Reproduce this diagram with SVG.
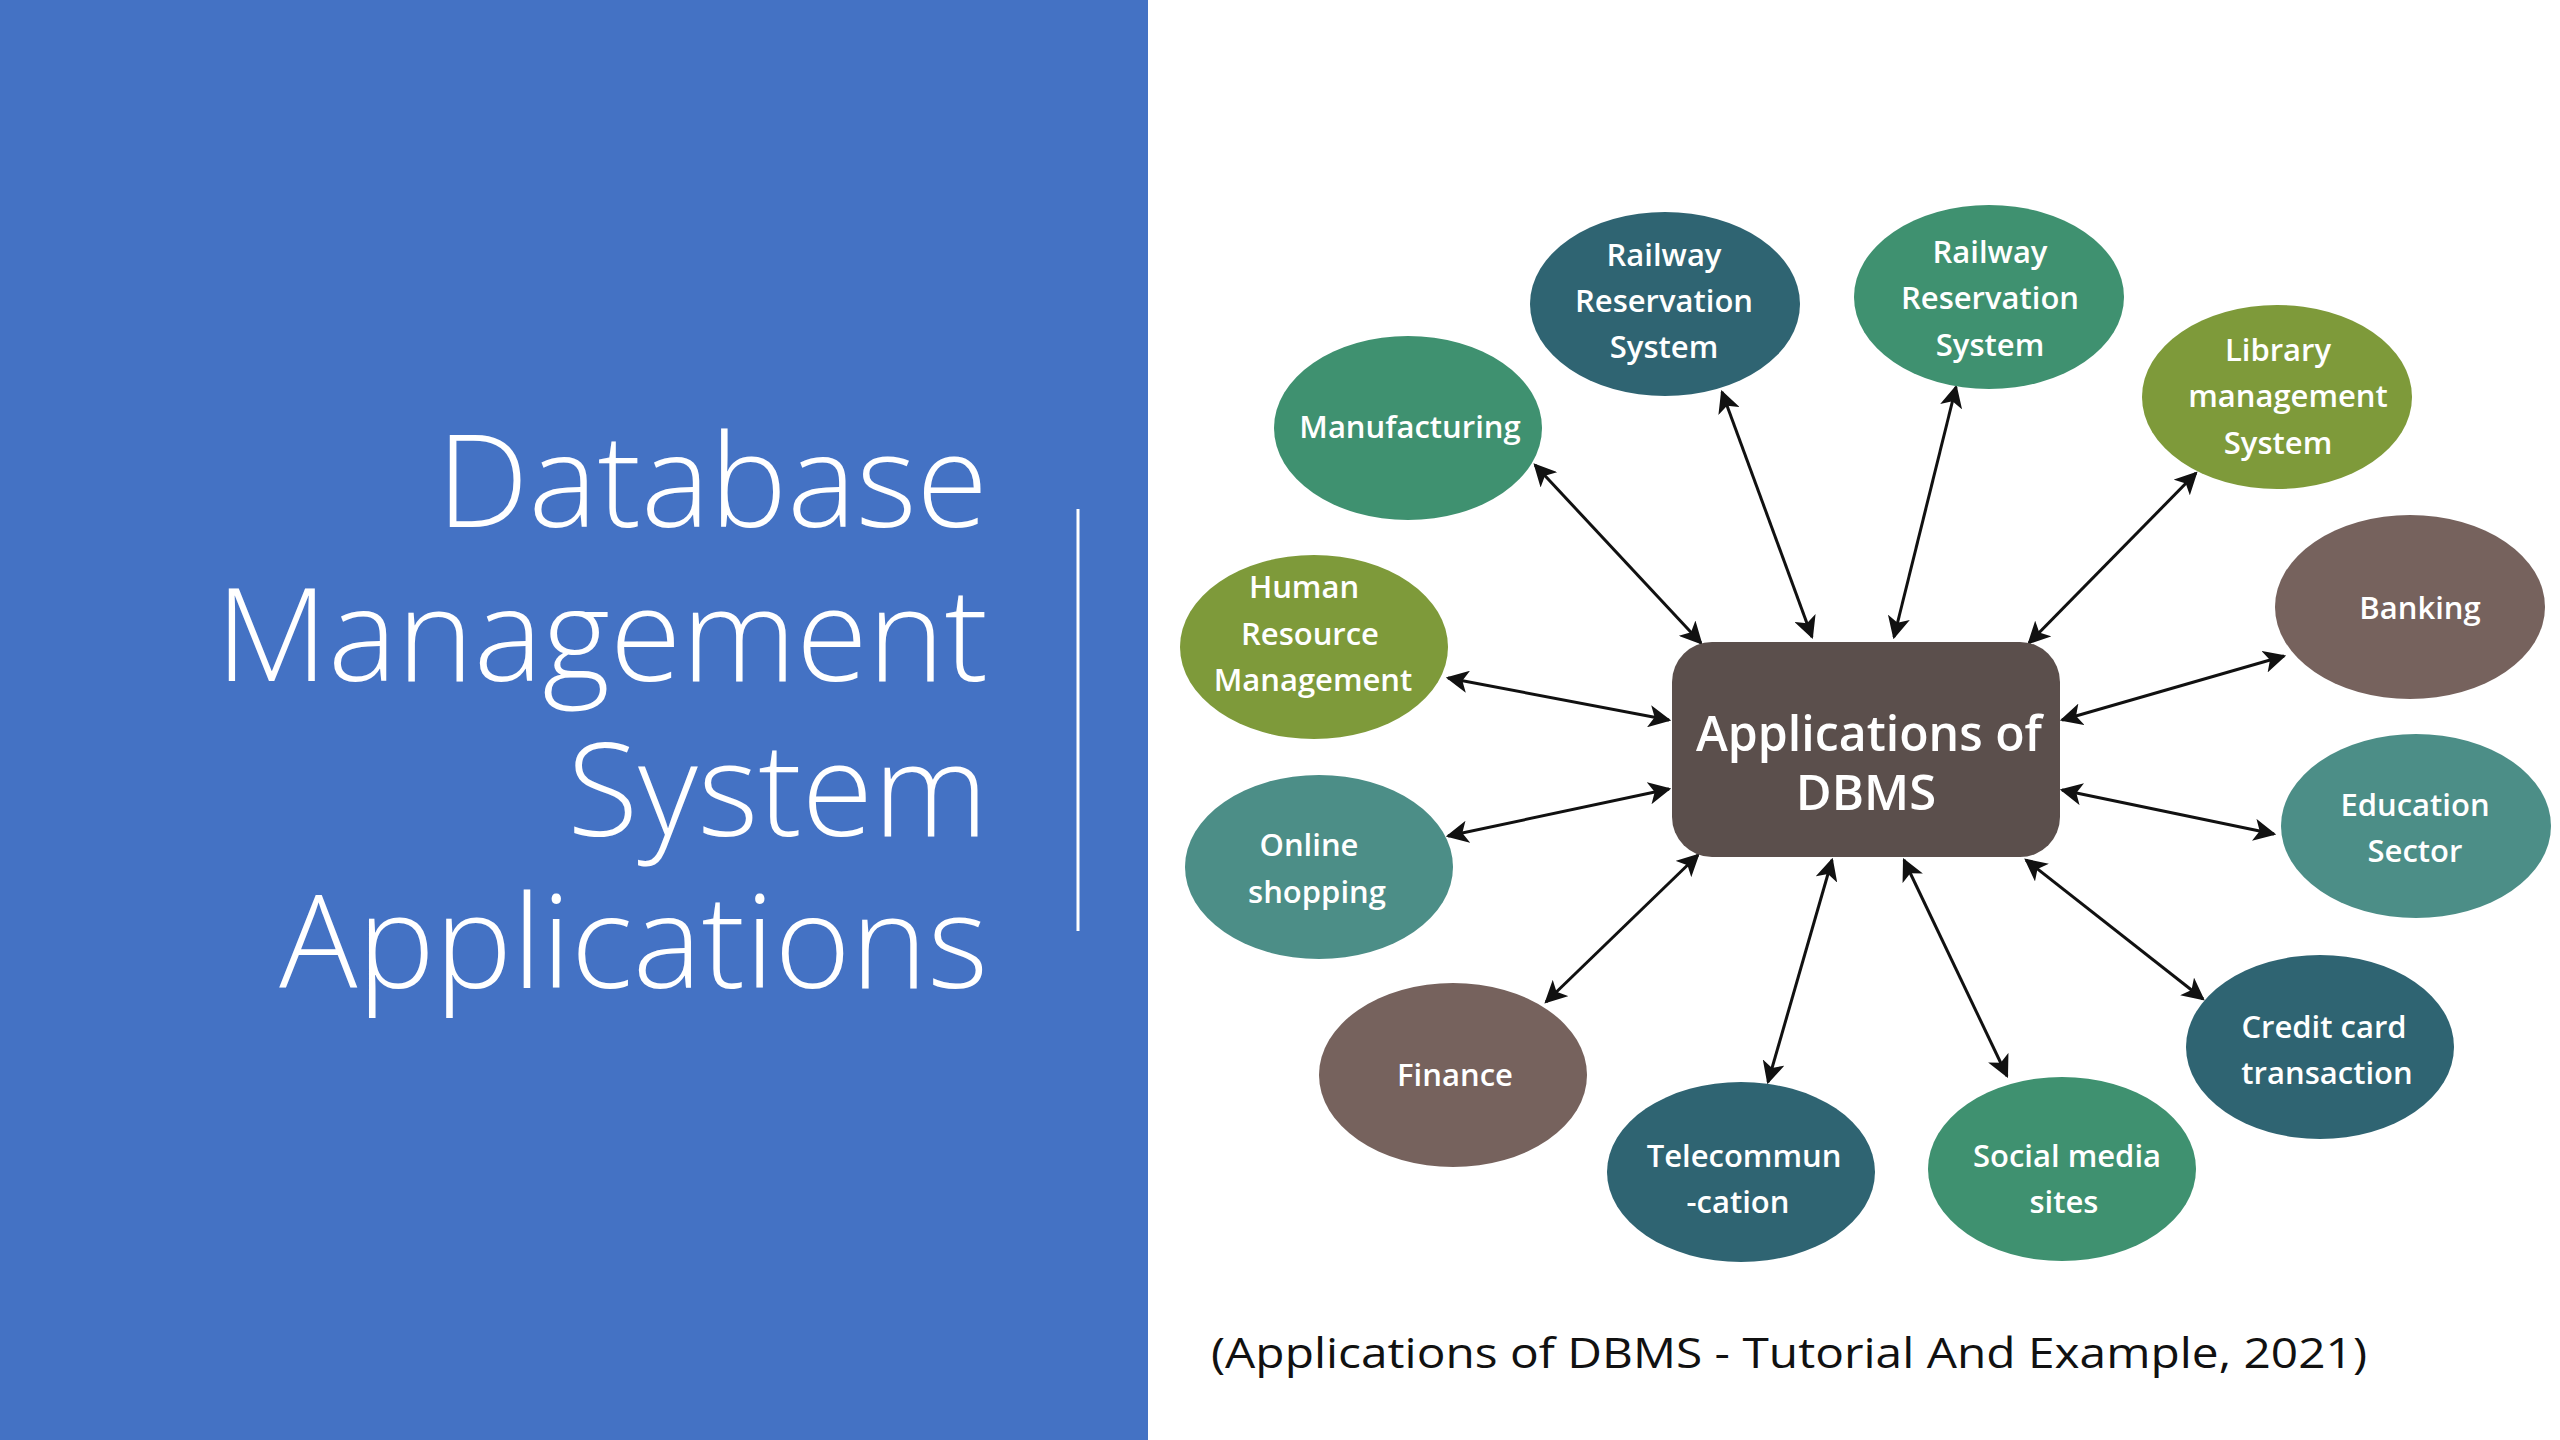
<svg xmlns="http://www.w3.org/2000/svg" width="2560" height="1440" viewBox="0 0 2560 1440">
<defs>
<style>
.title{font-family:"Open Sans","Liberation Sans",sans-serif;font-weight:300;font-size:130px;fill:#fff;text-anchor:end}
.lbl{font-family:"Open Sans","Liberation Sans",sans-serif;font-weight:600;font-size:31px;fill:#fff;text-anchor:middle}
.center{font-family:"Open Sans","Liberation Sans",sans-serif;font-weight:600;font-size:49px;fill:#fff;text-anchor:middle}
.cap{font-family:"Open Sans","Liberation Sans",sans-serif;font-size:42px;fill:#111}
.green{fill:#3f9170}.dteal{fill:#2f6472}.olive{fill:#7e9a3a}.brown{fill:#76625d}.teal{fill:#4c8e87}
.conn line{stroke:#111;stroke-width:3;marker-start:url(#ah);marker-end:url(#ah)}
</style>
<marker id="ah" viewBox="0 0 10 10" refX="9" refY="5" markerWidth="7.5" markerHeight="7.5" orient="auto-start-reverse" markerUnits="strokeWidth">
<path d="M0,0 L10,5 L0,10 L2.5,5 z" fill="#111"/>
</marker>
</defs>
<rect x="0" y="0" width="2560" height="1440" fill="#fff"/>
<rect x="0" y="0" width="1148" height="1440" fill="#4472c4"/>
<line x1="1078" y1="509" x2="1078" y2="931" stroke="#fff" stroke-width="3"/>
<g id="title">
<text class="title" x="988" y="527">Database</text>
<text class="title" x="988" y="681">Management</text>
<text class="title" x="988" y="836">System</text>
<text class="title" x="988" y="988">Applications</text>
</g>
<g class="conn" id="connectors">
<line x1="1535" y1="465" x2="1701" y2="643"/>
<line x1="1722" y1="392" x2="1812" y2="637"/>
<line x1="1956" y1="387" x2="1894" y2="637"/>
<line x1="2196" y1="473" x2="2029" y2="643"/>
<line x1="2284" y1="656" x2="2062" y2="720"/>
<line x1="1448" y1="678" x2="1669" y2="720"/>
<line x1="1448" y1="836" x2="1669" y2="789"/>
<line x1="2274" y1="834" x2="2062" y2="790"/>
<line x1="1546" y1="1002" x2="1698" y2="855"/>
<line x1="1768" y1="1082" x2="1832" y2="860"/>
<line x1="2007" y1="1076" x2="1904" y2="860"/>
<line x1="2203" y1="999" x2="2026" y2="860"/>
</g>
<g id="center">
<rect x="1672" y="642" width="388" height="215" rx="40" fill="#5b4f4c"/>
<text class="center" x="1869" y="751" textLength="346" lengthAdjust="spacingAndGlyphs">Applications of</text>
<text class="center" x="1866" y="810">DBMS</text>
</g>
<g id="manufacturing"><ellipse class="green" cx="1408" cy="428" rx="134" ry="92"/><text class="lbl" x="1410" y="438">Manufacturing</text></g>
<g id="railway1"><ellipse class="dteal" cx="1665" cy="304" rx="135" ry="92"/><text class="lbl" x="1664" y="266">Railway</text><text class="lbl" x="1664" y="312">Reservation</text><text class="lbl" x="1664" y="358">System</text></g>
<g id="railway2"><ellipse class="green" cx="1989" cy="297" rx="135" ry="92"/><text class="lbl" x="1990" y="263">Railway</text><text class="lbl" x="1990" y="309">Reservation</text><text class="lbl" x="1990" y="356">System</text></g>
<g id="library"><ellipse class="olive" cx="2277" cy="397" rx="135" ry="92"/><text class="lbl" x="2278" y="361">Library</text><text class="lbl" x="2288" y="407">management</text><text class="lbl" x="2278" y="454">System</text></g>
<g id="banking"><ellipse class="brown" cx="2410" cy="607" rx="135" ry="92"/><text class="lbl" x="2420" y="619">Banking</text></g>
<g id="education"><ellipse class="teal" cx="2416" cy="826" rx="135" ry="92"/><text class="lbl" x="2415" y="816">Education</text><text class="lbl" x="2415" y="862">Sector</text></g>
<g id="credit"><ellipse class="dteal" cx="2320" cy="1047" rx="134" ry="92"/><text class="lbl" x="2324" y="1038">Credit card</text><text class="lbl" x="2327" y="1084">transaction</text></g>
<g id="social"><ellipse class="green" cx="2062" cy="1169" rx="134" ry="92"/><text class="lbl" x="2067" y="1167">Social media</text><text class="lbl" x="2064" y="1213">sites</text></g>
<g id="telecom"><ellipse class="dteal" cx="1741" cy="1172" rx="134" ry="90"/><text class="lbl" x="1744" y="1167">Telecommun</text><text class="lbl" x="1738" y="1213">-cation</text></g>
<g id="finance"><ellipse class="brown" cx="1453" cy="1075" rx="134" ry="92"/><text class="lbl" x="1455" y="1086">Finance</text></g>
<g id="online"><ellipse class="teal" cx="1319" cy="867" rx="134" ry="92"/><text class="lbl" x="1309" y="856">Online</text><text class="lbl" x="1317" y="903">shopping</text></g>
<g id="hrm"><ellipse class="olive" cx="1314" cy="647" rx="134" ry="92"/><text class="lbl" x="1304" y="598">Human</text><text class="lbl" x="1310" y="645">Resource</text><text class="lbl" x="1313" y="691">Management</text></g>
<text class="cap" x="1211" y="1368" textLength="1156" lengthAdjust="spacingAndGlyphs">(Applications of DBMS - Tutorial And Example, 2021)</text>
</svg>
